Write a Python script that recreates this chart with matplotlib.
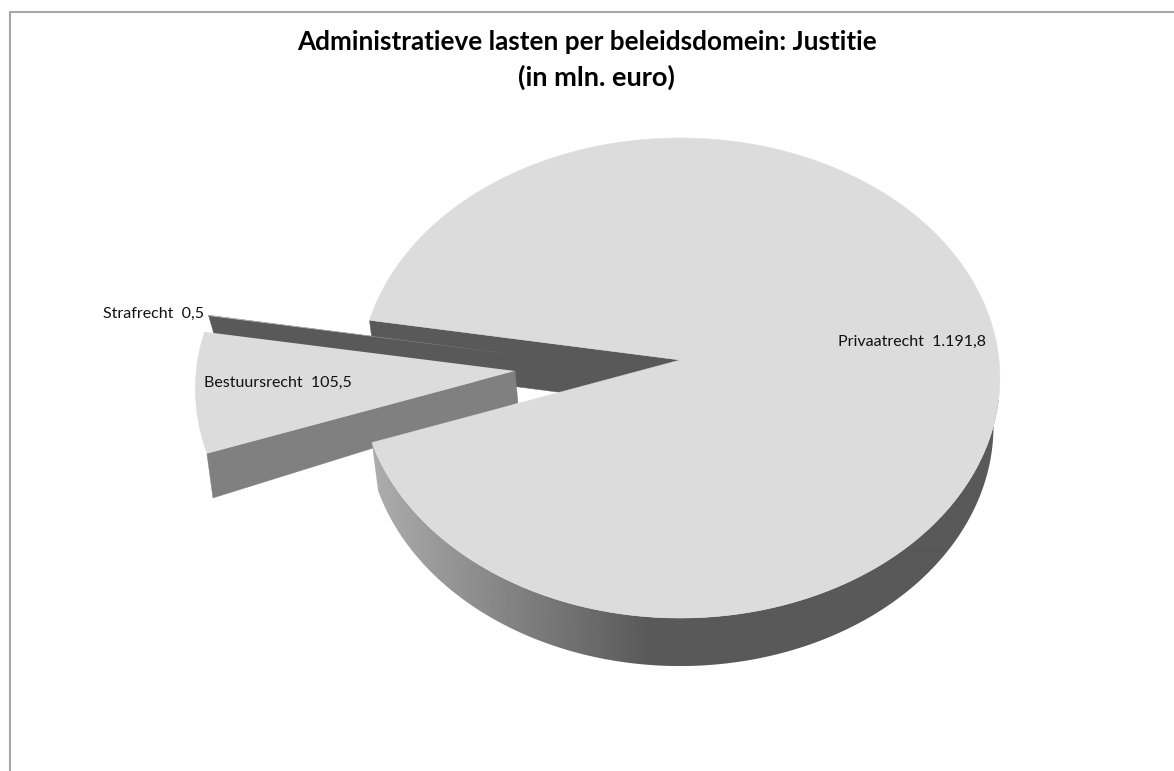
import numpy as np
import matplotlib
matplotlib.use("Agg")
import matplotlib.pyplot as plt
from matplotlib.patches import Polygon

# Administrative burden per policy domain (mln. euro)
domains = ["Privaatrecht", "Bestuursrecht", "Strafrecht"]
values = [1191.8, 105.5, 0.5]
value_labels = ["1.191,8", "105,5", "0,5"]

plt.rcParams["font.family"] = ["Lato", "DejaVu Sans"]

W, H = 1174, 771
fig = plt.figure(figsize=(W / 100, H / 100), dpi=100)
ax = fig.add_axes([0, 0, 1, 1])

# tilted disc, slight perspective towards the viewer
RX, RY, PERSP = 319, 238.7, 0.075
START = 170.3  # first slice starts here and runs clockwise
TOP_GREY, WALL_DARK, WALL_MID = "#dcdcdc", "#595959", "#808080"

# explode position of each slice and its lower face: apex, apex depth, scale x/y
apex = {"Privaatrecht": (680, 360), "Bestuursrecht": (515, 371), "Strafrecht": (519, 355)}
floor = {"Privaatrecht": ((0, 48), 0.98, 1.0),
         "Bestuursrecht": ((3, 32), 0.99, 1.15),
         "Strafrecht": ((2, 32), 0.98, 1.1)}

total = sum(values)
spans = [v / total * 360 for v in values]
angles = {}
a = START
for name, s in zip(domains, spans):
    angles[name] = (a - s, a)
    a -= s


def project(name, deg, lower=False):
    deg = np.asarray(deg, dtype=float)
    u, v = np.cos(np.radians(deg)), np.sin(np.radians(deg))
    w = 1 + PERSP * v
    x, y = RX * u / w, -RY * v / w
    cx, cy = apex[name]
    if lower:
        (dx, dy), sx, sy = floor[name]
        return cx + dx + sx * x, cy + dy + sy * y
    return cx + x, cy + y


def wedge_top(name):
    a0, a1 = angles[name]
    t = np.linspace(a0, a1, 500)
    x, y = project(name, t)
    cx, cy = apex[name]
    return np.column_stack([np.r_[cx, x], np.r_[cy, y]])


def side_wall(name, deg, color, z):
    # flat cut face between the apex and the rim
    cx, cy = apex[name]
    (dx, dy), _, _ = floor[name]
    xt, yt = project(name, deg)
    xb, yb = project(name, deg, lower=True)
    pts = [(cx, cy), (float(xt), float(yt)), (float(xb), float(yb)), (cx + dx, cy + dy)]
    ax.add_patch(Polygon(pts, closed=True, fc=color, ec=color, lw=0.3, zorder=z))


# back cut of the big slice, seen through the gap
side_wall("Privaatrecht", angles["Privaatrecht"][1], WALL_DARK, 1)

side_wall("Strafrecht", angles["Strafrecht"][0], WALL_DARK, 2)
ax.add_patch(Polygon(wedge_top("Strafrecht"), closed=True, fc=TOP_GREY, ec="none", zorder=3))

# front cut of the small slice
side_wall("Bestuursrecht", angles["Bestuursrecht"][1], WALL_MID, 4)
ax.add_patch(Polygon(wedge_top("Bestuursrecht"), closed=True, fc=TOP_GREY, ec="none", zorder=5))

# outer rim of the big slice, mid grey on the left going dark towards the front
t_rim = np.linspace(angles["Privaatrecht"][0], 0, 400)
xt, yt = project("Privaatrecht", t_rim)
xb, yb = project("Privaatrecht", t_rim, lower=True)
rim_pts = np.column_stack([np.r_[xt, xb[::-1]], np.r_[yt, yb[::-1]]])
rim_patch = Polygon(rim_pts, closed=True, fc="none", ec="none", zorder=6)
ax.add_patch(rim_patch)
gx = np.arange(360, 1010)
shade = 0xac + (0x59 - 0xac) * np.clip((gx - 375) / (650 - 375), 0, 1)
im = ax.imshow(shade[np.newaxis, :] / 255, extent=(360, 1010, 700, 400), cmap="gray",
               vmin=0, vmax=1, aspect="auto", zorder=6, interpolation="bilinear")
im.set_clip_path(rim_patch)

ax.add_patch(Polygon(wedge_top("Privaatrecht"), closed=True, fc=TOP_GREY, ec=TOP_GREY, lw=0.3, zorder=7))

# frame, open at the bottom
ax.plot([9.5, 9.5, W], [H, 11.5, 11.5], color="#a6a6a6", lw=1.5, zorder=8, solid_capstyle="butt")

ax.text(587, 42, "Administratieve lasten per beleidsdomein: Justitie",
        ha="center", va="center", fontsize=18.8, fontweight="bold", color="black", zorder=9)
ax.text(596, 77, "(in mln. euro)",
        ha="center", va="center", fontsize=19.6, fontweight="bold", color="black", zorder=9)

label_pos = {"Privaatrecht": (838, 342, "left"), "Bestuursrecht": (204, 383, "left"), "Strafrecht": (204, 314, "right")}
for name, val in zip(domains, value_labels):
    lx, ly, ha = label_pos[name]
    ax.text(lx, ly, name + "  " + val, ha=ha, va="center", fontsize=11.5, color="#111111", zorder=9)

ax.set_xlim(0, W)
ax.set_ylim(H, 0)
ax.axis("off")

fig.savefig("out.png", dpi=100, facecolor="white")
